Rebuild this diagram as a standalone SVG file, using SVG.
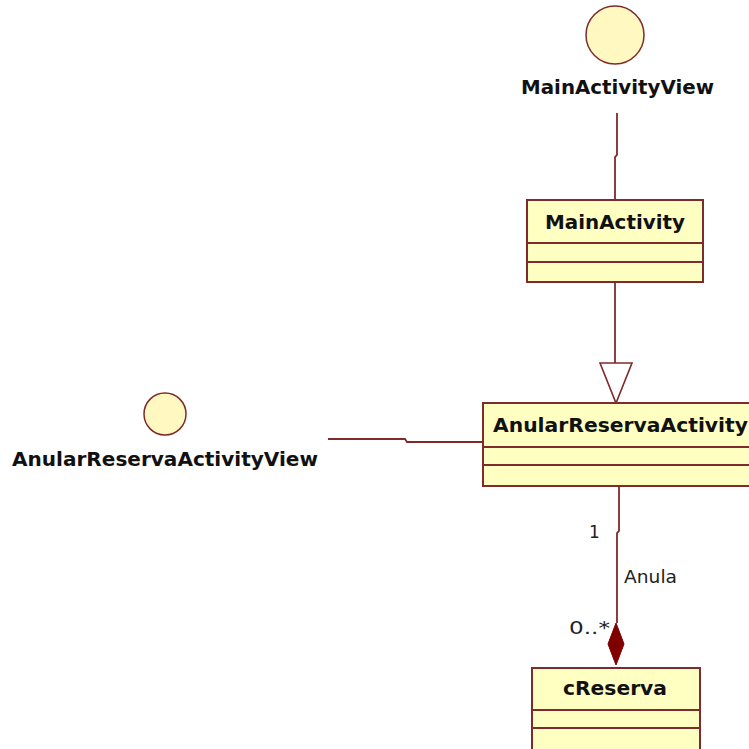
<svg xmlns="http://www.w3.org/2000/svg" width="749" height="749" viewBox="0 0 749 749">
<style>
.box{fill:#FFFFC2;stroke:#7F2B2B;stroke-width:2}
.div{stroke:#7F2B2B;stroke-width:2}
.iface{fill:#FFF8C0;stroke:#7F2B2B;stroke-width:1.5}
.ln{fill:none;stroke:#7F2B2B;stroke-width:1.8}
.nm{font-family:"DejaVu Sans",Verdana,sans-serif;font-weight:bold;font-size:19px;fill:#111}
.lb{font-family:"DejaVu Sans",Verdana,sans-serif;font-size:17px;fill:#222}
</style>
<rect width="749" height="749" fill="#FFFFFF"/>
<g id="connectors">
<polyline class="ln" points="617,113 617,155 615,157 615,200"/>
<line class="ln" x1="615" y1="282" x2="615" y2="363"/>
<polygon points="600,363 632,363 616,403" fill="#FFFFFF" stroke="#7F2B2B" stroke-width="1.6"/>
<polyline class="ln" points="328,439 405,439 407,442 483,442"/>
<polyline class="ln" points="619,486 619,531 617,533 617,623"/>
<polygon points="616,623 624,644 616,665 608,644" fill="#800000" stroke="#800000" stroke-width="1"/>
<text class="lb" x="589" y="538">1</text>
<text class="lb" x="624" y="583" textLength="53" lengthAdjust="spacingAndGlyphs">Anula</text>
<text class="lb" x="569" y="634" textLength="41" lengthAdjust="spacingAndGlyphs">0..*</text>
</g>
<g id="MainActivityView">
<circle class="iface" cx="615" cy="35" r="29"/>
<text class="nm" x="521" y="94" textLength="193" lengthAdjust="spacingAndGlyphs">MainActivityView</text>
</g>
<g id="MainActivity">
<rect class="box" x="527" y="200" width="176" height="82"/>
<line class="div" x1="527" y1="243" x2="703" y2="243"/>
<line class="div" x1="527" y1="262" x2="703" y2="262"/>
<text class="nm" x="545" y="229" textLength="140" lengthAdjust="spacingAndGlyphs">MainActivity</text>
</g>
<g id="AnularReservaActivityView">
<circle class="iface" cx="165" cy="414" r="21"/>
<text class="nm" x="12" y="466" textLength="306" lengthAdjust="spacingAndGlyphs">AnularReservaActivityView</text>
</g>
<g id="AnularReservaActivity">
<rect class="box" x="483" y="403" width="280" height="83"/>
<line class="div" x1="483" y1="447" x2="763" y2="447"/>
<line class="div" x1="483" y1="465" x2="763" y2="465"/>
<text class="nm" x="493" y="432" textLength="255" lengthAdjust="spacingAndGlyphs">AnularReservaActivity</text>
</g>
<g id="cReserva">
<rect class="box" x="532" y="668" width="168" height="100"/>
<line class="div" x1="532" y1="710" x2="700" y2="710"/>
<line class="div" x1="532" y1="728" x2="700" y2="728"/>
<text class="nm" x="563" y="695" textLength="104" lengthAdjust="spacingAndGlyphs">cReserva</text>
</g>
</svg>
